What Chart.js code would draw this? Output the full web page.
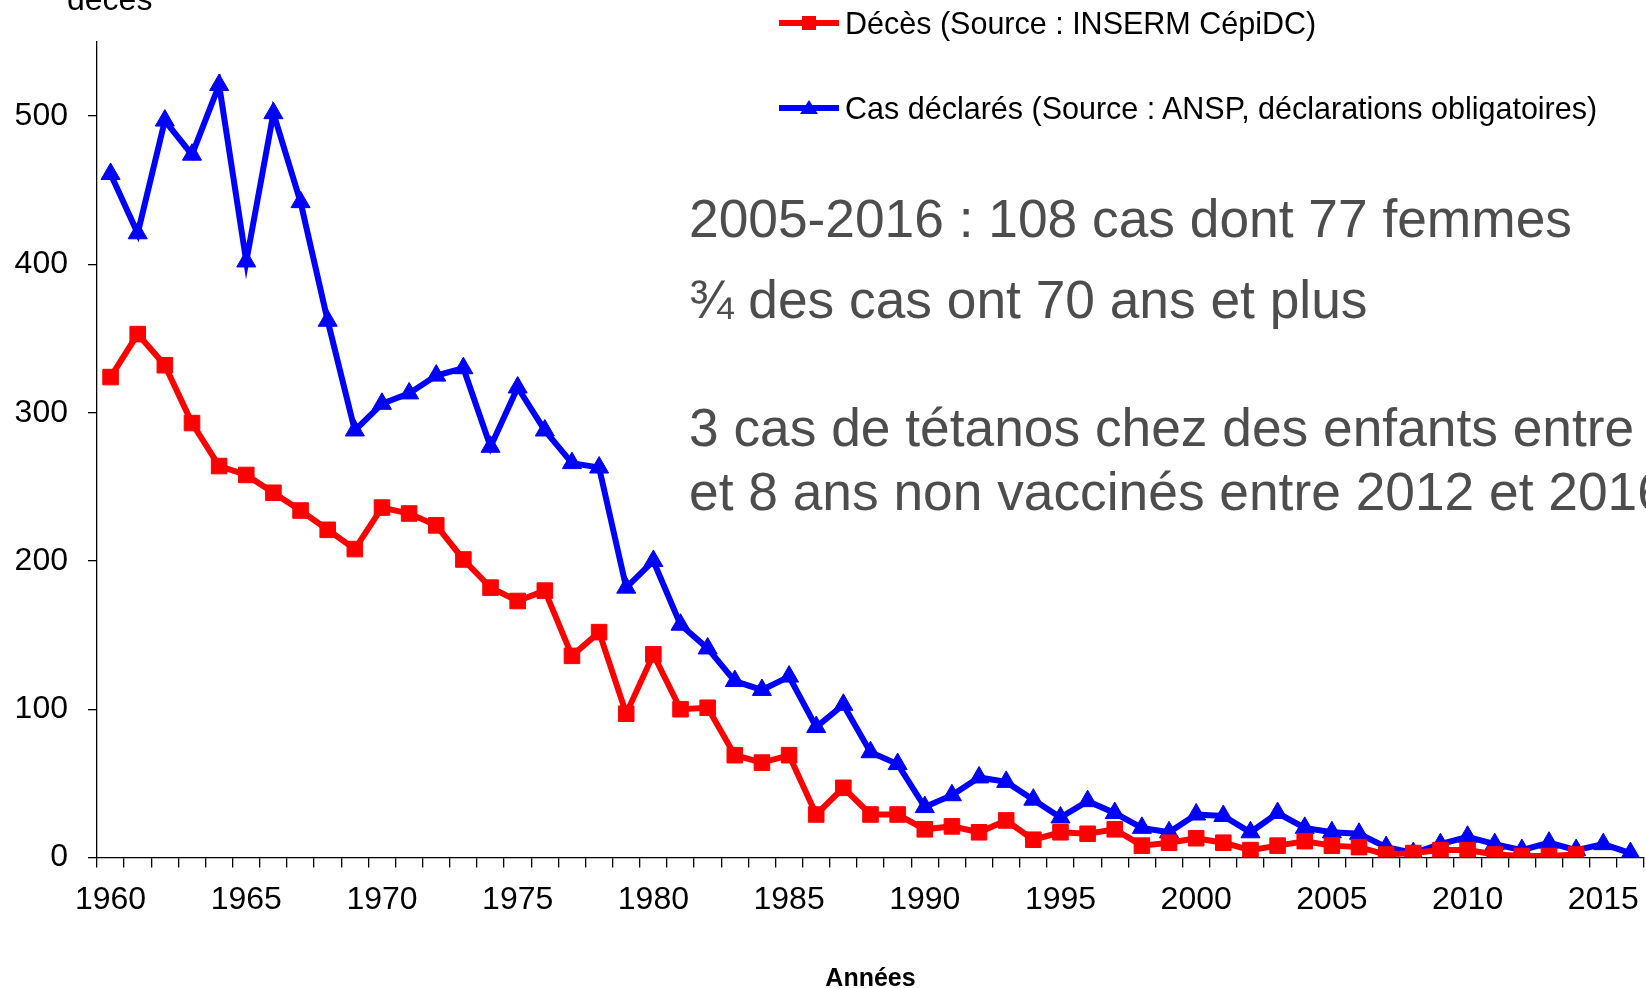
<!DOCTYPE html>
<html lang="fr">
<head>
<meta charset="utf-8">
<title>Tétanos en France : cas déclarés et décès, 1960-2016</title>
<script src="https://cdn.jsdelivr.net/npm/chart.js@4.4.1/dist/chart.umd.min.js"></script>
<style>
    html, body { margin: 0; padding: 0; background: #fff; overflow: hidden; }
    #page {
        position: relative; width: 1646px; height: 988px; overflow: hidden;
        font-family: 'Liberation Sans', Arial, sans-serif; color: #000;
    }
    /* le graphique déborde un peu à droite, comme l'image d'origine (rognée) */
    #wrap { position: absolute; left: 0; top: 0; width: 1656px; height: 988px; }
    .ytitle { position: absolute; left: 67px; top: -17px; font-size: 32px; line-height: 1; }
    .leg-row {
        position: absolute; left: 779px; display: flex; align-items: center;
        white-space: nowrap; font-size: 30.5px; line-height: 30px;
    }
    .leg-mark { position: relative; width: 60px; height: 30px; margin-right: 6px; }
    .leg-mark .ln { position: absolute; left: 0; right: 0; top: 12px; height: 6px; }
    .leg-mark .sq { position: absolute; left: 23px; top: 8px; width: 14px; height: 14px; }
    .leg-mark .tri {
        position: absolute; left: 21px; top: 7px; width: 0; height: 0;
        border-left: 9px solid transparent; border-right: 9px solid transparent;
        border-bottom: 14px solid #0000ff;
    }
    .note {
        position: absolute; left: 689px; font-size: 53.3px; line-height: 1;
        color: #4d4d4d; white-space: nowrap;
    }
</style>
</head>
<body>
<div id="page">
    <div id="wrap"><canvas id="tetanosChart"></canvas></div>
    <div class="ytitle">décès</div>
    <div id="legend"></div>
    <div class="note" style="top:192px">2005-2016 : 108 cas dont 77 femmes</div>
    <div class="note" style="top:273px">¾ des cas ont 70 ans et plus</div>
    <div class="note" style="top:401px">3 cas de tétanos chez des enfants entre 3</div>
    <div class="note" style="top:465px">et 8 ans non vaccinés entre 2012 et 2016</div>
</div>
<script>
// Années
const annees = [
    1960, 1961, 1962, 1963, 1964, 1965, 1966, 1967, 1968, 1969,
    1970, 1971, 1972, 1973, 1974, 1975, 1976, 1977, 1978, 1979,
    1980, 1981, 1982, 1983, 1984, 1985, 1986, 1987, 1988, 1989,
    1990, 1991, 1992, 1993, 1994, 1995, 1996, 1997, 1998, 1999,
    2000, 2001, 2002, 2003, 2004, 2005, 2006, 2007, 2008, 2009,
    2010, 2011, 2012, 2013, 2014, 2015, 2016
];

// Décès (INSERM CépiDC) - pas de données après 2014
const deces = [
    324, 353, 332, 293, 264, 258, 246, 234, 221, 208,
    236, 232, 224, 201, 182, 173, 180, 136, 152, 97,
    137, 100, 101, 69, 64, 69, 29, 47, 29, 29,
    19, 21, 17, 25, 12, 17, 16, 19, 8, 10,
    13, 10, 5, 8, 11, 8, 7, 2, 3, 5,
    5, 2, 1, 1, 2, null, null
];

// Cas déclarés (ANSP, déclarations obligatoires)
const cas = [
    461, 421, 497, 474, 521, 402, 502, 442, 362, 288,
    306, 313, 325, 330, 277, 317, 288, 266, 263, 182,
    200, 157, 141, 119, 113, 122, 88, 103, 71, 63,
    34, 42, 54, 51, 39, 27, 38, 30, 20, 17,
    29, 28, 17, 30, 20, 17, 16, 7, 3, 9,
    14, 9, 5, 10, 5, 9, 3
];

// Graduations
const yTicks = [0, 100, 200, 300, 400, 500];
const xTickLabels = [1960, 1965, 1970, 1975, 1980, 1985, 1990, 1995, 2000, 2005, 2010, 2015];

const police = "'Liberation Sans', Arial, sans-serif";

// Légende HTML (deux lignes, comme dans l'original)
function buildLegend(chart) {
    const box = document.getElementById('legend');
    const tops = [8, 93];
    chart.data.datasets.forEach((ds, i) => {
        const row = document.createElement('div');
        row.className = 'leg-row';
        row.style.top = tops[i] + 'px';
        const mark = document.createElement('span');
        mark.className = 'leg-mark';
        const ln = document.createElement('span');
        ln.className = 'ln';
        ln.style.background = ds.borderColor;
        mark.appendChild(ln);
        const pt = document.createElement('span');
        if (ds.pointStyle === 'rect') {
            pt.className = 'sq';
            pt.style.background = ds.borderColor;
        } else {
            pt.className = 'tri';
        }
        mark.appendChild(pt);
        row.appendChild(mark);
        const txt = document.createElement('span');
        txt.textContent = ds.label;
        row.appendChild(txt);
        box.appendChild(row);
    });
}

function initChart() {
    const ctx = document.getElementById('tetanosChart').getContext('2d');
    const chart = new Chart(ctx, {
        type: 'line',
        data: {
            labels: annees.map(String),
            datasets: [
                {
                    label: 'Décès (Source : INSERM CépiDC)',
                    data: deces,
                    borderColor: '#ff0000',
                    backgroundColor: '#ff0000',
                    borderWidth: 6,
                    pointStyle: 'rect',
                    pointRadius: 11,
                    pointHoverRadius: 11,
                    pointBorderWidth: 1,
                    tension: 0
                },
                {
                    label: 'Cas déclarés (Source : ANSP, déclarations obligatoires)',
                    data: cas,
                    borderColor: '#0000ff',
                    backgroundColor: '#0000ff',
                    borderWidth: 6,
                    pointStyle: 'triangle',
                    pointRadius: 11,
                    pointHoverRadius: 11,
                    pointBorderWidth: 1,
                    tension: 0
                }
            ]
        },
        options: {
            responsive: true,
            maintainAspectRatio: false,
            animation: false,
            layout: { padding: { top: 42, right: 4, left: 0, bottom: 0 } },
            plugins: {
                legend: { display: false },
                tooltip: { enabled: false }
            },
            scales: {
                x: {
                    offset: true,
                    grid: { offset: true, drawOnChartArea: false, tickLength: 10, color: '#000', lineWidth: 1.3 },
                    border: { color: '#000', width: 1.3 },
                    ticks: {
                        autoSkip: false,
                        maxRotation: 0,
                        minRotation: 0,
                        padding: 13,
                        color: '#000',
                        font: { family: police, size: 32 },
                        callback: function(value, index) {
                            const an = annees[index];
                            return xTickLabels.includes(an) ? String(an) : '';
                        }
                    },
                    title: {
                        display: true,
                        text: 'Années',
                        color: '#000',
                        font: { family: police, size: 25, weight: 'bold', lineHeight: 0.7 },
                        padding: { top: 0, bottom: 0 }
                    },
                    afterFit: function(scale) {
                        scale.height = 130.5;
                        // pas de marge latérale due aux étiquettes
                        scale.paddingLeft = 0;
                        scale.paddingRight = 0;
                    }
                },
                y: {
                    min: 0,
                    max: 550,
                    afterBuildTicks: function(scale) {
                        scale.ticks = yTicks.map(v => ({ value: v }));
                    },
                    grid: { drawOnChartArea: false, tickLength: 9, color: '#000', lineWidth: 1.3 },
                    border: { color: '#000', width: 1.3 },
                    ticks: {
                        padding: 20,
                        color: '#000',
                        font: { family: police, size: 32 }
                    },
                    afterFit: function(scale) { scale.width = 97; }
                }
            }
        }
    });
    buildLegend(chart);
}

window.addEventListener('load', function() {
    initChart();
});
</script>
</body>
</html>
